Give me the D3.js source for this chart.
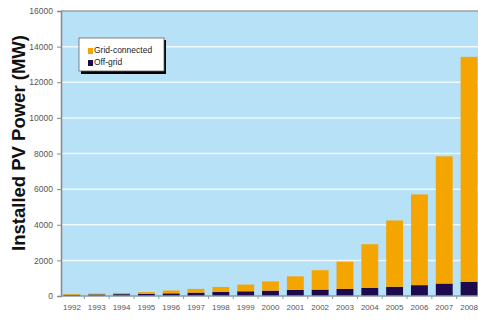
<!DOCTYPE html>
<html>
<head>
<meta charset="utf-8">
<script src="https://cdn.jsdelivr.net/npm/d3@7"></script>
<style>
  body { margin: 0; background: #fff; }
  svg { display: block; }
  text { font-family: "Liberation Sans Narrow", "Liberation Sans", Arial, sans-serif; }
</style>
</head>
<body>
<div id="main"></div>
<script>
// **** data ****
var years = ["1992","1993","1994","1995","1996","1997","1998","1999","2000",
             "2001","2002","2003","2004","2005","2006","2007","2008"];
var offGrid = [70, 90, 105, 125, 150, 190, 230, 265, 300, 340, 360, 400, 460, 520, 610, 700, 800];
var gridConnected = [40, 46, 67, 92, 159, 210, 278, 376, 518, 765, 1089, 1524, 2443, 3720, 5090, 7140, 12625];
var yTicks = [0, 2000, 4000, 6000, 8000, 10000, 12000, 14000, 16000];
var seriesNames = ["Grid-connected", "Off-grid"];
var colors = {"Grid-connected": "#f4a500", "Off-grid": "#1e0b4e"};

var W = 478, H = 320;
var svg = d3.select("#main").append("svg")
    .attr("width", W).attr("height", H);

var x = d3.scaleBand().domain(years).range([61, 480])
    .paddingInner(0.32).paddingOuter(0.1);
var y = d3.scaleLinear().domain([0, 16000]).range([296, 11]);

// plot background
svg.append("rect")
    .attr("x", 61).attr("y", y(16000))
    .attr("width", 480 - 61).attr("height", y(0) - y(16000))
    .style("fill", "#b6e1f6");

// gridlines
svg.append("g").selectAll("line")
    .data(yTicks.slice(1, -1))
    .enter().append("line")
    .attr("x1", 61).attr("x2", 480)
    .attr("y1", function(d){ return y(d); })
    .attr("y2", function(d){ return y(d); })
    .style("stroke", "#eef8fd").style("stroke-width", 1.5);

// top border
svg.append("line")
    .attr("x1", 61).attr("x2", 480)
    .attr("y1", y(16000)).attr("y2", y(16000))
    .style("stroke", "#a0a0a0").style("stroke-width", 1.5);

// **** stacked bars ****
var rows = years.map(function(yr, i){
  return {year: yr, "Off-grid": offGrid[i], "Grid-connected": gridConnected[i]};
});
var stack = d3.stack().keys(["Off-grid", "Grid-connected"])(rows);

svg.append("g").selectAll("g")
    .data(stack)
    .enter().append("g")
    .style("fill", function(d){ return colors[d.key]; })
  .selectAll("rect")
    .data(function(d){ return d; })
    .enter().append("rect")
    .attr("x", function(d){ return x(d.data.year); })
    .attr("width", x.bandwidth())
    .attr("y", function(d){ return y(d[1]); })
    .attr("height", function(d){ return y(d[0]) - y(d[1]); });

// **** axes ****
var yAxis = svg.append("g")
    .attr("transform", "translate(61,0)")
    .call(d3.axisLeft(y).tickValues(yTicks).tickFormat(d3.format("d")).tickSize(4).tickPadding(4));
yAxis.selectAll("text").style("font-size", "8.5px").style("fill", "#555");
yAxis.selectAll("line").style("stroke", "#888");
yAxis.select(".domain").style("stroke", "#888").style("stroke-width", 1.5);

var xAxis = svg.append("g")
    .attr("transform", "translate(0," + y(0) + ")")
    .call(d3.axisBottom(x).tickSize(0).tickPadding(8));
xAxis.selectAll("text").style("font-size", "8px").style("fill", "#555");
xAxis.select(".domain").remove();
svg.append("line")
    .attr("x1", 61).attr("x2", 480)
    .attr("y1", y(0)).attr("y2", y(0))
    .style("stroke", "#8a9aa8").style("stroke-width", 1.5);
// ticks between the bars
svg.append("g").selectAll("line")
    .data(years.slice(1))
    .enter().append("line")
    .attr("x1", function(d){ return x(d) - x.step() * x.paddingInner() / 2; })
    .attr("x2", function(d){ return x(d) - x.step() * x.paddingInner() / 2; })
    .attr("y1", y(0)).attr("y2", y(0) + 3)
    .style("stroke", "#8a9aa8");

// y title
svg.append("text")
    .attr("transform", "translate(25,143) rotate(-90)")
    .attr("text-anchor", "middle")
    .text("Installed PV Power (MW)")
    .style("font-family", "'Liberation Sans', Arial, sans-serif")
    .style("font-size", "18.5px")
    .style("font-weight", "bold")
    .style("fill", "#111");

// **** legend ****
svg.append("rect")
    .attr("x", 81).attr("y", 40).attr("width", 85).attr("height", 34)
    .style("fill", "#000");
svg.append("rect")
    .attr("x", 79).attr("y", 38).attr("width", 85).attr("height", 33)
    .style("fill", "#fff").style("stroke", "#666").style("stroke-width", 0.8);

var legend = svg.append("g").selectAll("g")
    .data(seriesNames)
    .enter().append("g")
    .attr("transform", function(d, i){ return "translate(88," + (51 + i * 12) + ")"; });
legend.append("rect")
    .attr("x", 0).attr("y", -3).attr("width", 5).attr("height", 6)
    .style("fill", function(d){ return colors[d]; });
legend.append("text")
    .attr("x", 6).attr("y", 0)
    .attr("dominant-baseline", "middle")
    .text(function(d){ return d; })
    .style("font-size", "8.5px")
    .style("fill", "#222");
</script>
</body>
</html>
